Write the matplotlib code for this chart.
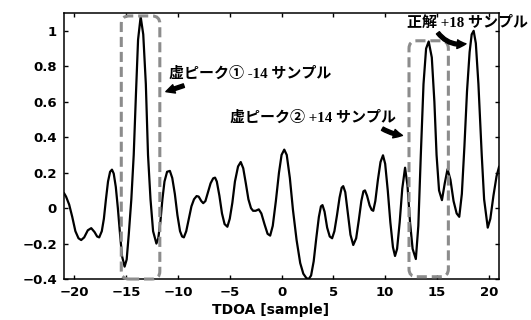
import matplotlib
matplotlib.use('Agg')
import matplotlib.pyplot as plt
from matplotlib.patches import FancyBboxPatch

# cross-correlation curve (TDOA in samples, value)
tdoa = [-21.0, -20.8, -20.5, -20.2, -19.9, -19.6, -19.34, -19.05, -18.7, -18.37,
        -18.05, -17.8, -17.6, -17.35, -17.15, -16.95, -16.75, -16.55, -16.37, -16.2,
        -16.0, -15.8, -15.6, -15.4, -15.15, -14.95, -14.75, -14.5, -14.27, -14.05,
        -13.85, -13.6, -13.35, -13.1, -12.89, -12.65, -12.4, -12.08, -11.9, -11.7,
        -11.5, -11.3, -11.05, -10.78, -10.55, -10.3, -10.05, -9.8, -9.6, -9.43,
        -9.2, -8.95, -8.7, -8.45, -8.2, -8.0, -7.75, -7.56, -7.35, -7.1,
        -6.85, -6.6, -6.42, -6.25, -6.0, -5.75, -5.5, -5.23, -5.0, -4.75,
        -4.5, -4.2, -3.94, -3.7, -3.45, -3.2, -2.95, -2.75, -2.5, -2.2,
        -1.95, -1.65, -1.35, -1.1, -0.85, -0.55, -0.25, 0.0, 0.26, 0.5,
        0.8, 1.1, 1.45, 1.8, 2.1, 2.4, 2.62, 2.85, 3.1, 3.35,
        3.6, 3.8, 3.95, 4.15, 4.4, 4.65, 4.88, 5.1, 5.35, 5.6,
        5.8, 5.95, 6.15, 6.4, 6.65, 6.92, 7.2, 7.45, 7.7, 7.9,
        8.05, 8.25, 8.5, 8.7, 8.85, 9.05, 9.3, 9.55, 9.79, 10.0,
        10.25, 10.5, 10.75, 10.95, 11.15, 11.4, 11.65, 11.92, 12.15, 12.4,
        12.65, 12.96, 13.2, 13.44, 13.7, 13.95, 14.2, 14.5, 14.75, 14.96,
        15.2, 15.48, 15.75, 16.02, 16.3, 16.6, 16.9, 17.15, 17.4, 17.65,
        17.9, 18.15, 18.35, 18.54, 18.75, 19.0, 19.32, 19.55, 19.9, 20.15,
        20.45, 20.75, 21.0]
corr = [0.085, 0.065, 0.02, -0.05, -0.13, -0.17, -0.18, -0.165, -0.125, -0.113,
        -0.135, -0.16, -0.165, -0.13, -0.06, 0.05, 0.15, 0.205, 0.217, 0.195,
        0.12, 0.0, -0.14, -0.27, -0.33, -0.29, -0.15, 0.05, 0.3, 0.65,
        0.95, 1.08, 0.98, 0.7, 0.3, 0.05, -0.13, -0.2, -0.17, -0.08,
        0.05, 0.15, 0.205, 0.21, 0.17, 0.08, -0.04, -0.13, -0.16, -0.165,
        -0.13, -0.06, 0.01, 0.05, 0.068, 0.065, 0.04, 0.028, 0.04, 0.09,
        0.14, 0.168, 0.172, 0.15, 0.07, -0.03, -0.09, -0.105, -0.06, 0.03,
        0.15, 0.235, 0.26, 0.225, 0.14, 0.05, 0.0, -0.015, -0.015, -0.007,
        -0.03, -0.09, -0.145, -0.155, -0.1, 0.04, 0.2, 0.3, 0.33, 0.3,
        0.17, -0.01, -0.18, -0.31, -0.37, -0.395, -0.40, -0.38, -0.3, -0.17,
        -0.05, 0.01, 0.017, -0.02, -0.11, -0.16, -0.17, -0.13, -0.04, 0.06,
        0.115, 0.124, 0.09, -0.03, -0.15, -0.208, -0.17, -0.07, 0.04, 0.095,
        0.1, 0.07, 0.015, -0.01, -0.015, 0.04, 0.16, 0.26, 0.298, 0.25,
        0.1, -0.08, -0.22, -0.27, -0.23, -0.08, 0.11, 0.228, 0.13, -0.08,
        -0.23, -0.287, -0.1, 0.3, 0.7, 0.9, 0.94, 0.85, 0.6, 0.3,
        0.1, 0.045, 0.14, 0.22, 0.16, 0.04, -0.03, -0.049, 0.08, 0.35,
        0.66, 0.88, 0.98, 1.0, 0.93, 0.7, 0.3, 0.05, -0.11, -0.06,
        0.07, 0.18, 0.235]

x_ticks = [-20, -15, -10, -5, 0, 5, 10, 15, 20]
x_tick_labels = ['\u221220', '\u221215', '\u221210', '\u22125', '0', '5', '10', '15', '20']
y_ticks = [-0.4, -0.2, 0, 0.2, 0.4, 0.6, 0.8, 1]
y_tick_labels = ['\u22120.4', '\u22120.2', '0', '0.2', '0.4', '0.6', '0.8', '1']

jp = ['Liberation Serif', 'Noto Sans CJK JP', 'DejaVu Sans']

fig = plt.figure(figsize=(5.31, 3.2), dpi=100)
ax = fig.add_axes([0.1205, 0.128, 0.8195, 0.831])

ax.plot(tdoa, corr, color='black', linewidth=1.6,
        solid_joinstyle='round', solid_capstyle='round')

ax.set_xlim(-21, 21)
ax.set_ylim(-0.4, 1.1)
ax.set_xticks(x_ticks)
ax.set_xticklabels(x_tick_labels)
ax.set_yticks(y_ticks)
ax.set_yticklabels(y_tick_labels)
ax.tick_params(direction='in', top=True, right=True, length=3, width=1,
               labelsize=9.5, pad=5)
for lab in ax.get_xticklabels() + ax.get_yticklabels():
    lab.set_fontweight('bold')
for sp in ax.spines.values():
    sp.set_linewidth(1.1)

ax.set_xlabel('TDOA [sample]', fontsize=10, fontweight='bold')
ax.xaxis.set_label_coords(0.474, -0.09)

# dashed rounded boxes around the peaks
aspect = (1.5 / 266) / (42 / 435)
for x0, x1, y0, y1 in [(-15.47, -11.75, -0.4, 1.084), (12.3, 16.1, -0.387, 0.944)]:
    box = FancyBboxPatch((x0, y0), x1 - x0, y1 - y0,
                         boxstyle='round,pad=0,rounding_size=0.75',
                         mutation_aspect=aspect, fill=False,
                         edgecolor='#8c8c8c', linewidth=2.2,
                         linestyle=(0, (3.3, 1.6)), clip_on=False, zorder=3)
    ax.add_patch(box)

# annotations
arrow = dict(arrowstyle='simple,head_width=0.7,head_length=0.7,tail_width=0.3',
             color='black', shrinkA=0, shrinkB=0, mutation_scale=9)
ax.text(-10.86, 0.757, '虚ピーク① -14 サンプル', family=jp, fontweight='bold',
        fontsize=10.8, va='center', ha='left')
ax.annotate('', xy=(-11.17, 0.657), xytext=(-9.43, 0.691), arrowprops=arrow)

ax.text(-4.97, 0.51, '虚ピーク② +14 サンプル', family=jp, fontweight='bold',
        fontsize=10.8, va='center', ha='left')
ax.annotate('', xy=(11.67, 0.41), xytext=(9.73, 0.448),
            arrowprops=dict(arrow, connectionstyle='arc3,rad=0.1'))

ax.text(12.15, 1.042, '正解 +18 サンプル', family=jp, fontweight='bold',
        fontsize=10.8, va='center', ha='left', clip_on=False)
ax.annotate('', xy=(17.8, 0.927), xytext=(15.09, 0.989),
            arrowprops=dict(arrow, connectionstyle='arc3,rad=0.3'))

fig.savefig('out.png', dpi=100)
plt.close(fig)
